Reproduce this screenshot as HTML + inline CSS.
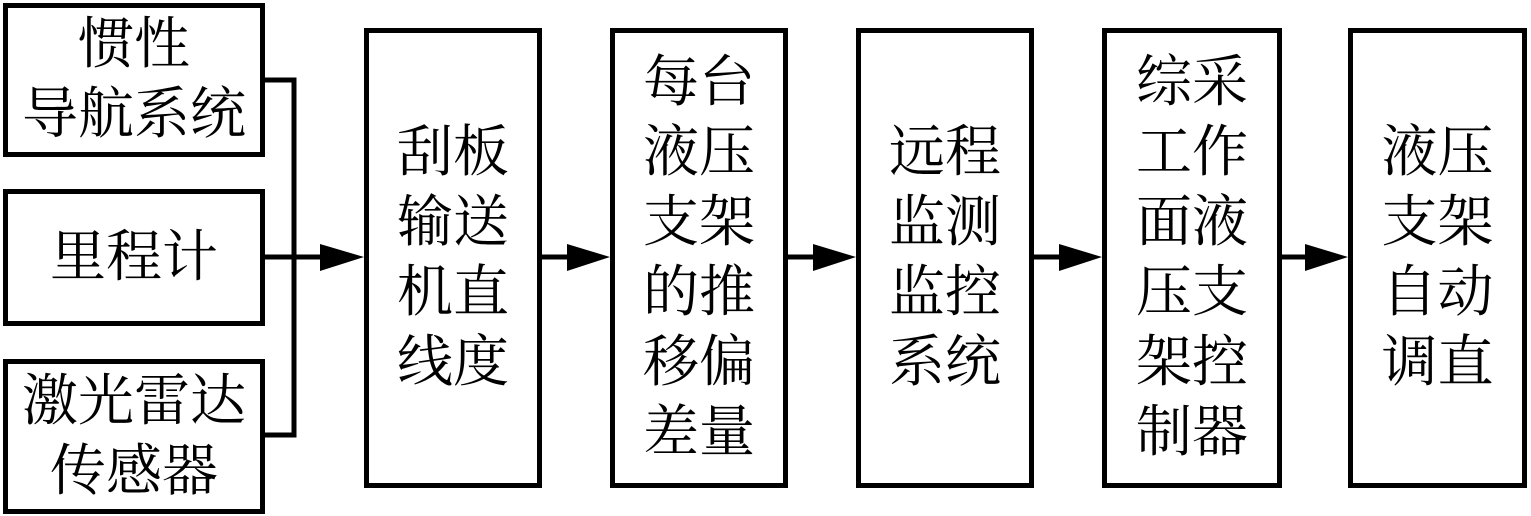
<!DOCTYPE html>
<html><head><meta charset="utf-8"><style>
body{margin:0;width:1531px;height:516px;background:#fff;position:relative;overflow:hidden}
.b{position:absolute;box-sizing:border-box;border:5px solid #000;display:flex;align-items:center;justify-content:center;text-align:center;font-family:"Liberation Serif","Noto Serif CJK SC",serif;font-size:56px;line-height:70px;color:#000}
</style></head><body>
<div class="b" style="left:3px;top:3px;width:262px;height:154px">惯性<br>导航系统</div>
<div class="b" style="left:3px;top:189px;width:262px;height:137px">里程计</div>
<div class="b" style="left:3px;top:359px;width:262px;height:155px">激光雷达<br>传感器</div>
<div class="b" style="left:364px;top:28px;width:178px;height:460px">刮板<br>输送<br>机直<br>线度</div>
<div class="b" style="left:610px;top:28px;width:178px;height:460px">每台<br>液压<br>支架<br>的推<br>移偏<br>差量</div>
<div class="b" style="left:856px;top:28px;width:178px;height:460px">远程<br>监测<br>监控<br>系统</div>
<div class="b" style="left:1102px;top:28px;width:180px;height:460px">综采<br>工作<br>面液<br>压支<br>架控<br>制器</div>
<div class="b" style="left:1348px;top:28px;width:179px;height:460px">液压<br>支架<br>自动<br>调直</div>
<svg width="1531" height="516" style="position:absolute;left:0;top:0">
<g stroke="#000" stroke-width="5" fill="none">
<polyline points="265,80 294,80 294,435 265,435"/>
<line x1="265" y1="257" x2="330" y2="257"/>
<line x1="542" y1="257" x2="575" y2="257"/>
<line x1="788" y1="257" x2="821" y2="257"/>
<line x1="1034" y1="257" x2="1067" y2="257"/>
<line x1="1282" y1="257" x2="1313" y2="257"/>
</g>
<g fill="#000">
<polygon points="320,244 364,257 320,271"/>
<polygon points="567,244 610,257 567,271"/>
<polygon points="813,244 856,257 813,271"/>
<polygon points="1059,244 1102,257 1059,271"/>
<polygon points="1305,244 1348,257 1305,271"/>
</g>
</svg>
</body></html>
